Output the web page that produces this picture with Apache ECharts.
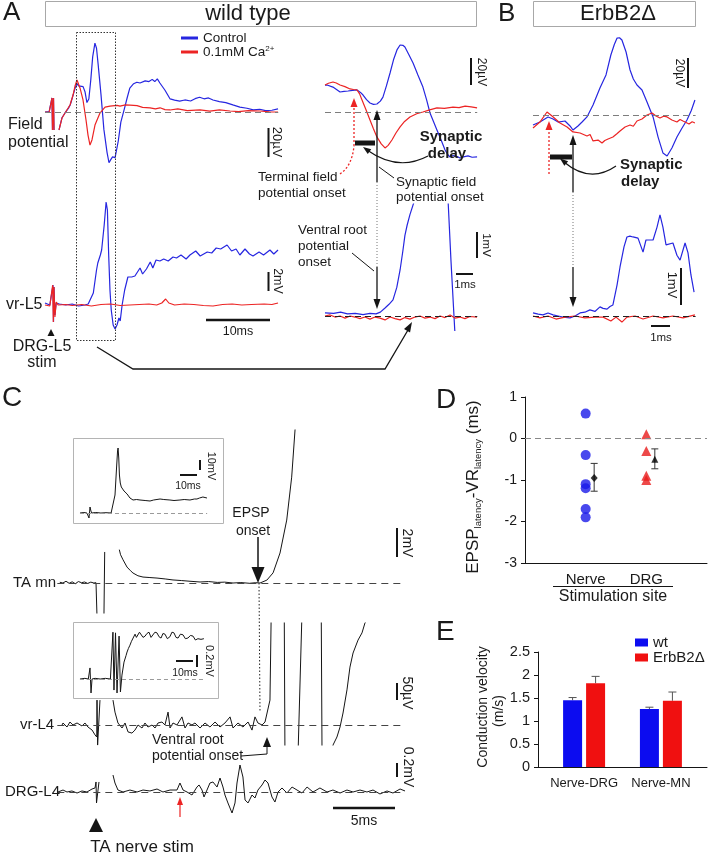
<!DOCTYPE html>
<html><head><meta charset="utf-8">
<script src="https://cdn.jsdelivr.net/npm/echarts@6/dist/echarts.min.js"></script>
<style>html,body{margin:0;padding:0;background:#fff}#c{width:708px;height:853px}</style>
</head><body><div id="c"></div>
<script>
// ---------------- DATA (time in ms, voltage in units of the scale bars) ----------------
// Panel A, wild type, overview (field potential in µV, vr-L5 in mV)
const aFieldCtrl = [[-1.25,0],[-0.6,0.3],[-0.31,0],[-0.16,9.7],[-0.08,-12.4],[0.08,9.7],[0.16,-12.4],[0.3,null],[0.94,-12.4],[1.4,-4],[1.9,-0.5],[2.4,2.5],[2.7,5],[3.1,11],[3.45,16.5],[3.75,19.5],[4.0,18],[4.3,18.5],[4.7,17.5],[5.0,14],[5.3,6.5],[5.6,9],[5.9,22],[6.2,38],[6.55,47.5],[6.8,44],[7.05,33],[7.5,12],[7.95,-12],[8.45,-28],[8.75,-35],[9.0,-33],[9.3,-31],[9.7,-31.5],[10.2,-20],[10.6,-7],[11.2,3],[11.6,10],[12.0,16.5],[12.6,19.5],[13.1,20.5],[13.6,20],[14.4,21.5],[15.0,21],[15.5,22.5],[15.9,21],[16.3,22.8],[16.7,20],[17.5,15],[18.3,9],[19.0,8.2],[19.8,7.5],[20.6,8.3],[21.5,7.6],[22.2,9.2],[22.9,10.2],[23.6,9.1],[24.3,9.7],[25.0,8.3],[26.0,7.2],[27.0,6.5],[28.1,4.9],[29.2,3.4],[30.3,2.6],[31.3,1.5],[32.3,1.9],[33.2,0.9],[34.2,1.2],[35.16,2.1]];
const aFieldCa = [[-1.25,0],[-0.6,-0.3],[-0.31,0],[-0.16,9.7],[-0.08,-12.4],[0.08,9.7],[0.16,-12.4],[0.3,null],[0.94,-12.4],[1.41,-4.1],[1.88,-0.7],[2.66,4.8],[3.13,11.7],[3.44,17.9],[3.75,22.1],[4.0,21],[4.22,16.6],[4.69,8.3],[5.16,-5.5],[5.47,-15.9],[5.78,-22.8],[6.09,-19.3],[6.56,-9],[7.34,-0.7],[8.13,3.4],[8.91,4.1],[10.0,4.6],[10.47,4.1],[11.3,4.9],[12.03,4.8],[13.13,4.4],[14.0,3.2],[15.16,2.8],[16.0,2.1],[16.72,2.9],[17.5,1.6],[18.28,1.4],[19.5,2.2],[21.0,1.0],[22.97,1.4],[24.5,0.6],[26.0,1.5],[27.66,0.7],[29.0,0.2],[30.5,1.0],[32.34,0.7],[33.8,0.1],[35.16,0]];
const aVrCtrl = [[-1.25,0.2],[-0.5,0],[-0.2,0.1],[0,2.0],[0.08,-1.7],[0.16,1.8],[0.3,-1.0],[0.5,0.2],[1,0.1],[2,0],[3,0.1],[4,-0.1],[5,0],[5.5,0.1],[5.8,0],[6.3,1.2],[6.8,3.5],[7.0,4.2],[7.4,5.0],[7.6,5.5],[7.8,5.3],[8.0,8],[8.3,10.3],[8.5,9.5],[8.7,5],[8.9,1.5],[9.1,-0.5],[9.4,-2.0],[9.7,-2.4],[10.0,-2.0],[10.3,-1.3],[10.5,-1.6],[10.8,0],[11.2,1.5],[11.7,2.8],[12.3,2.8],[12.8,2.9],[13.6,3.7],[14.0,3.1],[14.6,3.6],[15.2,4.3],[15.6,3.7],[16.1,4.5],[16.7,4.4],[17.3,4.6],[18.0,4.4],[18.75,4.8],[19.3,4.7],[20.0,5.0],[20.8,4.6],[21.4,5.0],[22.3,5.4],[23.0,4.9],[24.1,5.3],[24.8,5.2],[25.5,5.7],[26.2,5.6],[27.2,6.0],[27.9,5.4],[28.6,5.6],[29.2,5.0],[30.0,5.6],[30.7,5.1],[31.25,4.9],[32.2,5.3],[32.9,5.0],[33.9,5.5],[34.5,5.1],[35.16,5.5]];
const aVrCa = [[-1.25,0],[-0.5,-0.1],[-0.2,0],[-0.05,2.0],[0.05,-1.7],[0.15,1.8],[0.3,-1.2],[0.5,0.3],[0.8,0],[2,0.05],[3,-0.05],[4.5,0.05],[6,-0.1],[7.5,0.05],[9,0.1],[10.5,-0.05],[12,0],[13.5,0.05],[15,0.1],[16.2,0],[17.0,0.2],[17.6,0.6],[18.1,0.2],[19,0],[20.5,0.1],[22,0.05],[23.5,-0.05],[25,-0.1],[26.5,0.05],[28,0.1],[29.5,0],[31,0.05],[33,0.1],[34.2,0.05],[35.16,0.2]];
// Panel A, zoom of the dotted box
const arFieldCtrl = [[0,18.6],[0.12,18.6],[0.46,17.2],[0.87,13.8],[1.1,14.2],[1.33,14.5],[1.6,14.9],[1.85,15.2],[2.05,13.5],[2.2,11.7],[2.4,8.5],[2.6,6.2],[2.8,5.3],[3.0,5.5],[3.2,7.5],[3.35,10.3],[3.55,18],[3.76,26.9],[3.96,36],[4.16,42.8],[4.34,46.2],[4.5,46],[4.62,44.8],[4.85,39.5],[5.09,33.8],[5.37,25.5],[5.66,17.2],[5.87,8.5],[6.07,-0.7],[6.27,-6.5],[6.47,-12.4],[6.7,-19],[6.94,-26.2],[7.1,-29.5],[7.23,-31],[7.4,-30],[7.51,-29.7],[7.65,-30.8],[7.8,-31.7],[8.0,-31],[8.27,-30.3],[8.5,-31.2],[8.79,-31]];
const arFieldCa = [[0,18.6],[0.2,19.8],[0.46,20.7],[0.65,20],[0.87,18.6],[1.15,17.5],[1.45,15.9],[1.65,15.5],[1.85,15.2],[2.0,12.5],[2.14,8.3],[2.37,1.5],[2.6,-5.5],[2.8,-11.5],[3.0,-17.2],[3.25,-22],[3.47,-24.8],[3.65,-23],[3.87,-19.3],[4.1,-14.5],[4.34,-10.3],[4.6,-6.5],[4.91,-3.4],[5.3,-1.2],[5.66,0],[6.05,1.5],[6.47,2.8],[6.9,2.5],[7.4,3.4],[7.75,3.0],[8.1,4.1],[8.45,3.5],[8.79,2.8]];
const arVrCtrl = [[0,0.12],[0.5,0.1],[0.9,0.15],[1.3,0.08],[1.75,0.1],[2.2,0.05],[2.6,0.1],[2.95,0.08],[3.2,0.15],[3.47,0.31],[3.7,0.45],[3.93,0.62],[4.15,1.1],[4.34,1.77],[4.5,2.5],[4.62,3.1],[4.75,3.5],[4.91,3.9],[5.2,4.5],[5.6,6.5],[6.8,6.5],[7.11,4.5],[7.28,2.15],[7.5,-0.54],[7.6,-1.2]];
const arVrCa = [[0,0],[0.29,0.04],[0.58,-0.04],[0.87,0],[1.16,-0.08],[1.45,0],[1.73,-0.04],[2.02,-0.1],[2.31,-0.04],[2.6,-0.12],[2.89,-0.04],[3.18,-0.08],[3.47,-0.15],[3.76,-0.04],[4.05,-0.1],[4.34,-0.15],[4.62,-0.06],[4.91,-0.12],[5.2,-0.04],[5.49,0],[5.78,-0.08],[6.07,-0.04],[6.36,-0.1],[6.65,0],[6.94,-0.06],[7.23,0.04],[7.51,-0.08],[7.8,-0.04],[8.09,-0.1],[8.38,-0.02],[8.79,-0.04]];
// Panel B, ErbB2Δ
const bFieldCtrl = [[0,-6.7],[0.4,-4.7],[0.87,-1.3],[1.16,-2.7],[1.45,-4.7],[1.85,-4],[2.14,-7.3],[2.31,-10],[2.6,-7.3],[2.85,-4.5],[3.12,-1.3],[3.47,6.7],[3.87,18],[4.22,26.7],[4.5,40],[4.7,47],[4.86,51.3],[5.0,51.5],[5.14,50],[5.38,42],[5.61,30],[5.8,24],[6.01,20],[6.3,16.7],[6.59,8.7],[6.94,-1.3],[7.23,-14.7],[7.51,-25.3],[7.75,-27.3],[8.03,-22],[8.32,-14.7],[8.6,-9],[8.9,-3.3],[9.15,3],[9.36,10]];
const bFieldCa = [[0,-8.7],[0.4,-4.7],[0.81,2],[1.1,-0.7],[1.56,-5.3],[1.97,-8],[2.31,-11.3],[2.72,-12],[3.12,-14],[3.3,-13],[3.47,-17.3],[3.76,-16.7],[3.99,-18.7],[4.15,-17],[4.34,-16],[4.62,-14.7],[4.85,-12.5],[5.03,-10.7],[5.32,-8],[5.61,-6.7],[5.8,-7.5],[6.01,-4],[6.3,-2.7],[6.59,0],[6.88,1.3],[7.11,-0.7],[7.34,-2],[7.55,-0.8],[7.75,-1.3],[8.03,-3.3],[8.32,-4.7],[8.5,-3],[8.67,-4],[9.02,-6],[9.2,-4.5],[9.36,-5.3]];
const bVrCtrl = [[0,0.08],[0.3,0.05],[0.58,0.03],[0.87,0.08],[1.16,0.03],[1.45,0],[1.73,-0.03],[2.14,-0.05],[2.43,0],[2.72,0.08],[3.0,0.1],[3.29,0.16],[3.58,0.12],[3.87,0.24],[4.05,0.2],[4.28,0.18],[4.45,0.25],[4.62,0.29],[4.86,0.82],[5.03,1.29],[5.26,1.82],[5.43,2.08],[5.6,2.1],[5.78,2.08],[6.07,2.05],[6.18,2],[6.36,1.68],[6.53,2],[6.76,2],[6.94,2],[7.17,2.34],[7.34,2.66],[7.51,2.34],[7.69,1.87],[7.8,1.82],[8.09,1.92],[8.32,1.6],[8.5,1.47],[8.79,1.92],[8.96,1.66],[9.13,1.08],[9.31,0.63]];
const bVrCa = [[0,0],[0.4,-0.05],[0.87,0],[1.33,-0.08],[1.85,-0.03],[2.43,0],[3.0,-0.05],[3.58,-0.03],[4.05,-0.03],[4.5,-0.13],[4.8,-0.03],[5.14,-0.16],[5.43,-0.03],[5.9,0],[6.36,-0.08],[6.94,0],[7.51,-0.05],[8.09,0],[8.67,-0.05],[9.36,0.03]];
// Panel C (TA mn in mV, vr-L4 in µV, DRG-L4 in mV); insets in mV
const cInset1 = [[-5.3,0],[-3,0.5],[-1.2,0],[-0.3,0],[0,-5],[0.3,-5],[0.6,6],[1.0,3],[1.5,0],[4,0.5],[7,0],[10,0.3],[13,0],[14.1,1],[15.3,18],[16.2,45],[16.8,62],[17.1,65],[17.5,55],[17.9,38],[18.4,30],[19.0,26],[19.6,24],[20.6,22],[22.4,19],[24.1,15],[25.9,13],[28,13.5],[30,13],[33,12.5],[35.9,12],[38,13],[41.8,14],[44,13.5],[47.6,13],[50,12.5],[53.5,13],[56,13.5],[59.4,13],[62,14],[63.5,14],[65,15],[67,16],[69.4,15]];
const cTaMn = [[-3.0,0.05],[-2.75,0],[-2.5,0.12],[-2.25,-0.02],[-2.0,0.08],[-1.75,-0.05],[-1.5,0.1],[-1.25,0.02],[-1.0,0.07],[-0.75,-0.03],[-0.5,0.06],[-0.25,0],[-0.08,0.02],[0,-2.3],[0.56,-2.3],[0.62,2.14],[0.7,null],[1.8,2.3],[1.9,1.95],[2.1,1.6],[2.42,1.1],[2.7,0.85],[2.9,0.69],[3.3,0.5],[3.71,0.41],[4.2,0.38],[4.84,0.34],[5.5,0.28],[6.13,0.21],[6.8,0.17],[7.5,0.12],[8.31,0.07],[9.0,0.1],[9.7,0.04],[10.3,0.06],[10.97,0],[11.6,0.03],[12.3,-0.02],[12.8,0.02],[13.15,0],[13.7,0.2],[14.2,0.7],[14.76,2.07],[15.3,4.34],[15.7,7.3],[15.97,10.55],[16.1,11.9]];
const cInset2 = [[-5.9,0],[-3,0.01],[-1,0],[-0.2,0],[0,0.17],[0.3,0.17],[0.6,-0.215],[0.9,-0.2],[1.2,0],[3,0.01],[6,0],[9,0.01],[12,0],[12.9,0],[13.5,0.72],[14.1,-0.17],[15.0,0.71],[15.9,-0.215],[17.1,0.66],[17.9,-0.2],[18.8,0.06],[20.0,0.26],[21.2,0.36],[21.8,0.415],[22.6,0.47],[23.5,0.52],[24.4,0.58],[25.3,0.6],[26.5,0.69],[27.3,0.64],[28.2,0.65],[29.1,0.72],[30,0.71],[31.2,0.64],[32.4,0.66],[33.5,0.7],[34.7,0.72],[35.9,0.64],[37,0.65],[38.2,0.72],[39.4,0.71],[40.6,0.65],[41.8,0.63],[42.9,0.7],[44.1,0.69],[45.5,0.62],[47,0.65],[48.2,0.72],[49.4,0.71],[50.6,0.64],[51.8,0.63],[53.2,0.69],[54.7,0.68],[56.1,0.62],[57.6,0.63],[59.1,0.67],[60.6,0.66],[62,0.6],[63.5,0.62],[65.3,0.61],[67,0.62]];
const cVrL4 = [[-2.82,0],[-2.74,6.7],[-2.42,-6.7],[-2.18,10],[-1.94,0],[-1.61,6.7],[-1.21,-3.3],[-0.97,6.7],[-0.73,-6.7],[-0.4,-16.7],[-0.16,-33],[-0.02,-40],[0,83],[0.05,-67],[0.2,-67],[0.24,83],[0.3,null],[1.29,83],[1.45,43],[1.69,6.7],[2.02,-10],[2.26,6.7],[2.5,-23],[2.82,-27],[3.06,-17],[3.31,0],[3.63,-10],[3.87,6.7],[4.11,-6.7],[4.44,0],[4.68,-10],[4.92,6.7],[5.24,10],[5.48,0],[5.73,43],[5.89,-10],[6.13,6.7],[6.45,0],[6.85,27],[7.1,-10],[7.34,6.7],[7.66,0],[7.9,6.7],[8.31,-10],[8.71,6.7],[9.11,-6.7],[9.52,10],[9.92,-6.7],[10.32,6.7],[10.73,27],[10.97,-10],[11.37,6.7],[11.77,-6.7],[12.18,10],[12.5,-17],[12.74,27],[12.98,6.7],[13.31,0],[13.55,10],[13.71,10],[13.95,83],[14.11,550],[15.08,550],[15.16,-117],[16.2,-117],[16.65,550],[18.06,550],[18.15,-117],[19.03,-117],[19.03,-67],[19.35,-40],[19.6,-6.7],[19.84,40],[20.16,117],[20.4,193],[20.65,240],[21.05,283],[21.37,307],[21.61,340],[21.77,350]];
const cDrgL4 = [[-3.15,0],[-2.74,0.033],[-2.42,0],[-2.02,0.017],[-1.61,-0.017],[-1.21,0.017],[-0.81,0],[-0.4,0.05],[-0.16,0.067],[-0.08,0.167],[-0.04,-0.183],[0.12,-0.183],[0.16,0.167],[0.2,null],[1.29,0.283],[1.45,0.15],[1.69,0.033],[2.1,0],[2.66,0.033],[3.23,0],[3.71,0.033],[4.27,0.017],[4.84,0.05],[5.32,0],[5.89,0.033],[6.45,0.033],[6.69,0.15],[6.94,0.033],[7.26,0],[7.66,-0.05],[8.06,0.083],[8.23,0.117],[8.47,0.033],[8.63,-0.083],[8.87,0.033],[9.11,0.15],[9.35,0.167],[9.68,0.083],[9.92,0.233],[10.16,0.083],[10.32,-0.05],[10.56,-0.183],[10.89,-0.35],[11.13,-0.183],[11.29,0.15],[11.53,0.45],[11.77,0.25],[11.94,-0.133],[12.18,-0.183],[12.5,-0.05],[12.74,-0.1],[12.98,0.033],[13.31,0.117],[13.55,0.2],[13.79,0.15],[14.11,-0.083],[14.35,-0.167],[14.6,0],[14.92,0.067],[15.32,-0.017],[15.73,0.083],[16.13,0.033],[16.53,-0.017],[16.94,0.083],[17.42,0],[17.98,0.067],[18.55,0],[19.03,0.033],[19.6,-0.017],[20.16,0.033],[20.65,0],[21.21,0.033],[21.77,0],[22.26,0.033],[22.82,-0.033],[23.39,0.017],[23.87,-0.017],[24.44,0.05],[24.84,0.017]];
// Panel D
const dCategories = ['Nerve', 'DRG'];
const dNerve = [0.6, -0.4, -1.1, -1.2, -1.7, -1.9];
const dDrg = [0.1, -0.3, -0.9, -1.0];
const dMeans = [-0.95, -0.5];
const dErrLow = [-1.27, -0.73];
const dErrHigh = [-0.6, -0.25];
// Panel E
const eCategories = ['Nerve-DRG', 'Nerve-MN'];
const eWt = [1.45, 1.26];
const eWtErr = [0.06, 0.04];
const eErb = [1.82, 1.44];
const eErbErr = [0.15, 0.19];

// ---------------- LAYOUT ----------------
const FONT = '"Liberation Sans", Arial, Helvetica, sans-serif';
const BLUE = '#2626e0', RED = '#ec2424', INK = '#151515';
const PANES = [
  {x0:53,kx:6.4,t:[-1.25,35.2],y0:112,ky:1.45,v:[-42,55],base:'#7d7d7d'},   // 0 A field
  {x0:53,kx:6.4,t:[-1.25,35.2],y0:305,ky:10,v:[-2.6,11],base:null},         // 1 A vr-L5
  {x0:325,kx:17.3,t:[0,8.8],y0:112,ky:1.45,v:[-42,50],base:'#7d7d7d'},      // 2 A zoom field
  {x0:325,kx:17.3,t:[0,8.8],y0:316,ky:26,v:[-0.55,4.3],base:'#222'},        // 3 A zoom vr
  {x0:533,kx:17.3,t:[0,9.4],y0:115,ky:1.5,v:[-30,55],base:'#7d7d7d'},       // 4 B field
  {x0:533,kx:17.3,t:[0,9.4],y0:316,ky:38,v:[-0.3,2.9],base:'#222'},         // 5 B vr
  {x0:89,kx:1.7,t:[-5.3,69.5],y0:513,ky:1,v:[-8,68],base:'#9a9a9a',dash:[4,3]},   // 6 C inset 1
  {x0:97,kx:12.4,t:[-3.2,24.8],y0:583,ky:14.5,v:[-2.07,10.55],base:'#444',dash:[7,5]}, // 7 TA mn
  {x0:90,kx:1.7,t:[-5.9,67.1],y0:679,ky:65,v:[-0.25,0.8],base:'#9a9a9a',dash:[4,3]},  // 8 C inset 2
  {x0:97,kx:12.4,t:[-3.2,24.8],y0:725,ky:0.3,v:[-67,340],base:'#444',dash:[7,5]},     // 9 vr-L4
  {x0:97,kx:12.4,t:[-3.2,24.8],y0:792,ky:60,v:[-0.45,0.55],base:'#444',dash:[7,5]}    // 10 DRG-L4
];
const grids = [], xAxes = [], yAxes = [];
PANES.forEach((p, i) => {
  grids.push({left:p.x0 + p.t[0]*p.kx, width:(p.t[1]-p.t[0])*p.kx, top:p.y0 - p.v[1]*p.ky, height:(p.v[1]-p.v[0])*p.ky});
  xAxes.push({type:'value', gridIndex:i, min:p.t[0], max:p.t[1], show:false});
  yAxes.push({type:'value', gridIndex:i, min:p.v[0], max:p.v[1], show:false});
});
// D grid (index 11), E grid (index 12)
grids.push({left:525, top:397, width:182, height:166});
grids.push({left:538, top:652, width:169, height:115});
const axisTxt = {color:'#1a1a1a', fontFamily:FONT};
xAxes.push({type:'value', gridIndex:11, min:0, max:3, axisLine:{show:true, onZero:false, lineStyle:{color:INK}}, axisTick:{show:false}, splitLine:{show:false},
  axisLabel:Object.assign({customValues:[1,2], formatter:v => dCategories[Math.round(v)-1], fontSize:15, margin:9}, axisTxt)});
yAxes.push({type:'value', gridIndex:11, min:-3, max:1, interval:1, axisLine:{show:true, lineStyle:{color:INK}}, axisTick:{show:true, length:4, lineStyle:{color:INK}}, splitLine:{show:false},
  axisLabel:Object.assign({fontSize:14, margin:8}, axisTxt)});
xAxes.push({type:'value', gridIndex:12, min:0.4, max:2.6, axisLine:{show:true, onZero:false, lineStyle:{color:INK}}, axisTick:{show:false}, splitLine:{show:false},
  axisLabel:Object.assign({customValues:[1,2], formatter:v => eCategories[Math.round(v)-1], fontSize:13, margin:10}, axisTxt)});
yAxes.push({type:'value', gridIndex:12, min:0, max:2.5, interval:0.5, axisLine:{show:true, lineStyle:{color:INK}}, axisTick:{show:true, length:4, lineStyle:{color:INK}}, splitLine:{show:false},
  axisLabel:Object.assign({fontSize:14.5, margin:8}, axisTxt)});

function trace(name, gi, data, color, width) {
  const p = PANES[gi];
  const s = {type:'line', name:name, xAxisIndex:gi, yAxisIndex:gi, data:data, color:color, symbol:'none', showSymbol:false,
    lineStyle:{color:color, width:width}, clip:true, silent:true, animation:false, connectNulls:false};
  return s;
}
function baseline(gi) {
  const p = PANES[gi];
  return {type:'line', xAxisIndex:gi, yAxisIndex:gi, data:[], silent:true,
    markLine:{silent:true, symbol:'none', label:{show:false}, animation:false,
      lineStyle:{color:p.base, width:1, type:p.dash || [6,4]}, data:[{yAxis:0}]}};
}
const series = [];
[0,2,3,4,5,6,7,8,9,10].forEach(gi => series.push(baseline(gi)));
series.push(trace('Control',0,aFieldCtrl,BLUE,1.2), trace('Ca',0,aFieldCa,RED,1.2));
series.push(trace('Control',1,aVrCtrl,BLUE,1.2), trace('Ca',1,aVrCa,RED,1.2));
series.push(trace('Control',2,arFieldCtrl,BLUE,1.2), trace('Ca',2,arFieldCa,RED,1.2));
series.push(trace('Control',3,arVrCtrl,BLUE,1.2), trace('Ca',3,arVrCa,RED,1.2));
series.push(trace('Control',4,bFieldCtrl,BLUE,1.2), trace('Ca',4,bFieldCa,RED,1.2));
series.push(trace('Control',5,bVrCtrl,BLUE,1.2), trace('Ca',5,bVrCa,RED,1.2));
series.push(trace('c1',6,cInset1,INK,1), trace('c2',7,cTaMn,INK,1), trace('c3',8,cInset2,INK,1), trace('c4',9,cVrL4,INK,1), trace('c5',10,cDrgL4,INK,1));

// Panel D
const dMeanShift = 0.14;
series.push({type:'line', xAxisIndex:11, yAxisIndex:11, data:[], silent:true,
  markLine:{silent:true, symbol:'none', label:{show:false}, lineStyle:{color:'#888', width:1, type:[6,4]}, data:[{yAxis:0}]}});
series.push({type:'scatter', name:'dNerve', xAxisIndex:11, yAxisIndex:11, data:dNerve.map(v => [1, v]), symbol:'circle', symbolSize:10, itemStyle:{color:'#1a1ae8'}, silent:true});
series.push({type:'scatter', name:'dDrg', xAxisIndex:11, yAxisIndex:11, data:dDrg.map(v => [2, v]), symbol:'triangle', symbolSize:10, itemStyle:{color:'#e81c1c'}, silent:true});
series.push({type:'custom', name:'dErr', xAxisIndex:11, yAxisIndex:11, silent:true, encode:{x:0, y:[1,2]},
  data:dMeans.map((m,i) => [i+1+dMeanShift, dErrLow[i], dErrHigh[i]]),
  renderItem:(params, api) => {
    const a = api.coord([api.value(0), api.value(1)]), b = api.coord([api.value(0), api.value(2)]), w = 3.5;
    const st = {stroke:'#333', lineWidth:1};
    return {type:'group', children:[
      {type:'line', shape:{x1:a[0], y1:a[1], x2:b[0], y2:b[1]}, style:st},
      {type:'line', shape:{x1:a[0]-w, y1:a[1], x2:a[0]+w, y2:a[1]}, style:st},
      {type:'line', shape:{x1:b[0]-w, y1:b[1], x2:b[0]+w, y2:b[1]}, style:st}]};
  }});
series.push({type:'scatter', name:'dMeanN', xAxisIndex:11, yAxisIndex:11, data:[[1+dMeanShift, dMeans[0]]], symbol:'diamond', symbolSize:[7,8], itemStyle:{color:'#000'}, silent:true, z:5});
series.push({type:'scatter', name:'dMeanD', xAxisIndex:11, yAxisIndex:11, data:[[2+dMeanShift, dMeans[1]]], symbol:'triangle', symbolSize:7, itemStyle:{color:'#000'}, silent:true, z:5});

// Panel E
series.push({type:'bar', name:'wt', xAxisIndex:12, yAxisIndex:12, data:eWt.map((v,i) => [i+1, v]), barWidth:19, barGap:'21%', itemStyle:{color:'#0c0cf0'}, silent:true});
series.push({type:'bar', name:'ErbB2Δ', xAxisIndex:12, yAxisIndex:12, data:eErb.map((v,i) => [i+1, v]), barWidth:19, barGap:'21%', itemStyle:{color:'#f01010'}, silent:true});
const eShift = 11.5;
series.push({type:'custom', name:'eErr', xAxisIndex:12, yAxisIndex:12, silent:true, encode:{x:0, y:[1,2]},
  data:eWt.map((v,i) => [i+1, v, v+eWtErr[i], -eShift]).concat(eErb.map((v,i) => [i+1, v, v+eErbErr[i], eShift])),
  renderItem:(params, api) => {
    const a = api.coord([api.value(0), api.value(1)]), b = api.coord([api.value(0), api.value(2)]), dx = api.value(3), w = 4;
    const st = {stroke:'#555', lineWidth:1};
    return {type:'group', children:[
      {type:'line', shape:{x1:a[0]+dx, y1:a[1], x2:b[0]+dx, y2:b[1]}, style:st},
      {type:'line', shape:{x1:b[0]+dx-w, y1:b[1], x2:b[0]+dx+w, y2:b[1]}, style:st}]};
  }});

// ---------------- ANNOTATIONS ----------------
const PI = Math.PI;
function T(x, y, text, size, o) {
  o = o || {};
  const al = o.align || 'center';
  return {type:'text', x:x, y:y, rotation:o.rot || 0, z:100, silent:true,
    style:{text:text, fill:o.color || '#1a1a1a', font:(o.bold ? 'bold ' : '') + size + 'px ' + FONT,
      align:al, verticalAlign:'middle', textAlign:al, textVerticalAlign:'middle', rich:o.rich}};
}
function L(x1, y1, x2, y2, color, w, dash) {
  return {type:'line', z:100, silent:true, shape:{x1:x1, y1:y1, x2:x2, y2:y2},
    style:{stroke:color || INK, lineWidth:w || 2, lineDash:dash || null}};
}
function R(x, y, w, h, stroke, fill) {
  return {type:'rect', z:99, silent:true, shape:{x:x, y:y, width:w, height:h}, style:{stroke:stroke || null, fill:fill || null, lineWidth:1}};
}
function P(points, color) {
  return {type:'polygon', z:100, silent:true, shape:{points:points}, style:{fill:color || INK}};
}
function head(tx, ty, fx, fy, len, w, color) {
  const dx = tx - fx, dy = ty - fy, d = Math.hypot(dx, dy), ux = dx / d, uy = dy / d;
  const bx = tx - ux * len, by = ty - uy * len;
  return P([[tx, ty], [bx - uy * w / 2, by + ux * w / 2], [bx + uy * w / 2, by - ux * w / 2]], color);
}
function Q(x1, y1, cx, cy, x2, y2, color, w, dash) {
  return {type:'bezierCurve', z:100, silent:true, shape:{x1:x1, y1:y1, cpx1:cx, cpy1:cy, x2:x2, y2:y2},
    style:{stroke:color || INK, fill:null, lineWidth:w || 1.2, lineDash:dash || null}};
}
const VR = {rot:-PI/2};
const G = [];
// titles and panel letters
G.push(T(3,13,'A',26,{align:'left'}), T(498,14,'B',26,{align:'left'}), T(2,398,'C',28,{align:'left'}), T(436,400,'D',28,{align:'left'}), T(436,632,'E',28,{align:'left'}));
G.push(R(45.5,1.5,431,25,'#a8a8a8','#fff'), T(248,14,'wild type',22), R(533.5,1.5,162,25,'#a8a8a8','#fff'), T(618,14,'ErbB2Δ',22));
// A overview
G.push(T(8,125,'Field',16,{align:'left'}), T(8,143,'potential',16,{align:'left'}), T(6,305,'vr-L5',16,{align:'left'}), T(42,347,'DRG-L5',16), T(42,363,'stim',16));
G.push(P([[51,329],[47.5,336],[54.5,336]]));
G.push({type:'rect', z:100, silent:true, shape:{x:76.5, y:32.5, width:39, height:308}, style:{fill:null, stroke:'#333', lineWidth:1, lineDash:[1.5,1.5]}});
G.push(L(268.5,128,268.5,157), T(277,142,'20µV',13,VR), L(268.5,272,268.5,291), T(277,281,'2mV',12.5,VR), L(206,320,270,320,INK,2.5), T(238,332,'10ms',12.5));
G.push({type:'polyline', z:100, silent:true, shape:{points:[[97,347],[133,369],[385,369],[408,330]]}, style:{stroke:INK, lineWidth:1.3, fill:null}}, head(412,322,385,369,10,7));
// A zoom
G.push(L(471,58,471,85), T(481,72,'20µV',12,VR), L(477,232,477,258), T(486,245,'1mV',11.5,VR), L(456,274,473,274), T(465,285,'1ms',11.5));
G.push(Q(340,174,352,166,354,146,RED,1.3,[2,2]), L(354,146,354,106,RED,1.3,[2,2]), head(354,98,354,110,9,7,RED));
G.push(L(377,118,377,182,INK,1.3), head(377,110,377,125,10,7), L(377,182,377,267,'#777',1,[1,2]), L(377,267,377,300,INK,1.3), head(377,309,377,295,10,7));
G.push(R(355,140.5,20,5,null,INK));
G.push(T(451,137,'Synaptic',15,{bold:true}), T(447,154,'delay',15,{bold:true}));
G.push(Q(428,156,398,172,367,150,INK,1.2), head(363,147,395,170,8,6));
G.push(T(258,177,'Terminal field',13.5,{align:'left'}), T(258,193,'potential onset',13.5,{align:'left'}));
G.push(T(396,182,'Synaptic field',13.5,{align:'left'}), T(396,197,'potential onset',13.5,{align:'left'}), L(394,178,379,167,INK,1));
G.push(T(298,230,'Ventral root',13.5,{align:'left'}), T(298,246,'potential',13.5,{align:'left'}), T(298,262,'onset',13.5,{align:'left'}), L(352,253,374,271,INK,1));
// B
G.push(L(688,58,688,88), T(679,73,'20µV',12,VR), L(681,268,681,305), T(672,285,'1mV',13,VR), L(651,326,670,326), T(661,338,'1ms',11.5));
G.push(L(549,174,549,130,RED,1.3,[2,2]), head(549,121,549,135,9,7,RED));
G.push(L(573,143,573,192,INK,1.3), head(573,135,573,150,10,7), L(573,192,573,267,'#777',1,[1,2]), L(573,267,573,298,INK,1.3), head(573,307,573,292,10,7));
G.push(R(550,154.5,22,5,null,INK));
G.push(T(620,165,'Synaptic',15,{bold:true, align:'left'}), T(621,182,'delay',15,{bold:true, align:'left'}));
G.push(Q(616,166,590,184,564,162,INK,1.2), head(560,158.5,588,181,8,6));
// C
G.push(R(73.5,438.5,150,85,'#b4b4b4'), L(200,460,200,470), T(211,466,'10mV',11,VR), L(180,475,197,475), T(188,486,'10ms',10.5));
G.push(T(251,513,'EPSP',14), T(253,531,'onset',14), L(258,537,258,570,INK,1.5), head(258,583,258,560,16,13));
G.push(L(397,528,397,557), T(407,543,'2mV',14,VR), T(13,583,'TA mn',15,{align:'left'}));
G.push(L(259,583,260,712,'#222',1,[1.5,2]));
G.push(R(73.5,622.5,145,76,'#b4b4b4'), L(197,655,197,667), T(209,661,'0.2mV',11,VR), L(176,661,193,661), T(185,673,'10ms',10.5));
G.push(L(397,683,397,700), T(407,693,'50µV',14,VR), T(20,725,'vr-L4',15,{align:'left'}));
G.push(T(152,740,'Ventral root',14,{align:'left'}), T(152,756,'potential onset',14,{align:'left'}),
  {type:'polyline', z:100, silent:true, shape:{points:[[241,756],[267,754],[267,747]]}, style:{stroke:INK, lineWidth:1, fill:null}}, head(267,737,267,750,10,8));
G.push(L(397,763,397,777), T(408,767,'0.2mV',14,VR), T(5,792,'DRG-L4',15,{align:'left'}));
G.push(L(180,817,180,803,RED,1.2), head(180,797,180,810,8,6,RED));
G.push(L(333,808,395,808,INK,2.5), T(364,821,'5ms',14));
G.push(P([[96,818],[89,832],[103,832]]), T(142,847,'TA nerve stim',17));
// D
G.push(T(473,487,'{a|EPSP}{b|latency}{a|-VR}{b|latency}{a| (ms)}',17,{rot:PI/2, rich:{
  a:{fontSize:17, fontFamily:FONT, fill:'#1a1a1a', color:'#1a1a1a', lineHeight:20},
  b:{fontSize:9.5, fontFamily:FONT, fill:'#1a1a1a', color:'#1a1a1a', lineHeight:9, verticalAlign:'bottom'}}}));
G.push(L(553,586.5,673,586.5,INK,1), T(613,597,'Stimulation site',16));
// E
G.push(T(483,707,'Conduction velocity',14,{rot:PI/2}), T(499,711,'(m/s)',14,{rot:PI/2}));

const chart = echarts.init(document.getElementById('c'), null, {renderer:'canvas'});
chart.setOption({
  animation:false,
  backgroundColor:'#fff',
  textStyle:{fontFamily:FONT},
  grid:grids, xAxis:xAxes, yAxis:yAxes, series:series,
  legend:[
    {data:['Control','Ca'], left:181, top:31, orient:'vertical', icon:'rect', itemWidth:17, itemHeight:3, itemGap:0, padding:0, selectedMode:false,
     formatter:n => n === 'Ca' ? '0.1mM Ca{sup|2+}' : n,
     textStyle:{fontSize:13.5, fontFamily:FONT, color:'#1a1a1a', lineHeight:14,
       rich:{sup:{fontSize:8, fontFamily:FONT, color:'#1a1a1a', verticalAlign:'top', lineHeight:9}}}},
    {data:['wt','ErbB2Δ'], left:635, top:635, orient:'vertical', icon:'rect', itemWidth:13, itemHeight:8, itemGap:0, padding:0, selectedMode:false,
     textStyle:{fontSize:15, fontFamily:FONT, color:'#1a1a1a', lineHeight:13.5}}
  ],
  graphic:G
});
</script></body></html>
